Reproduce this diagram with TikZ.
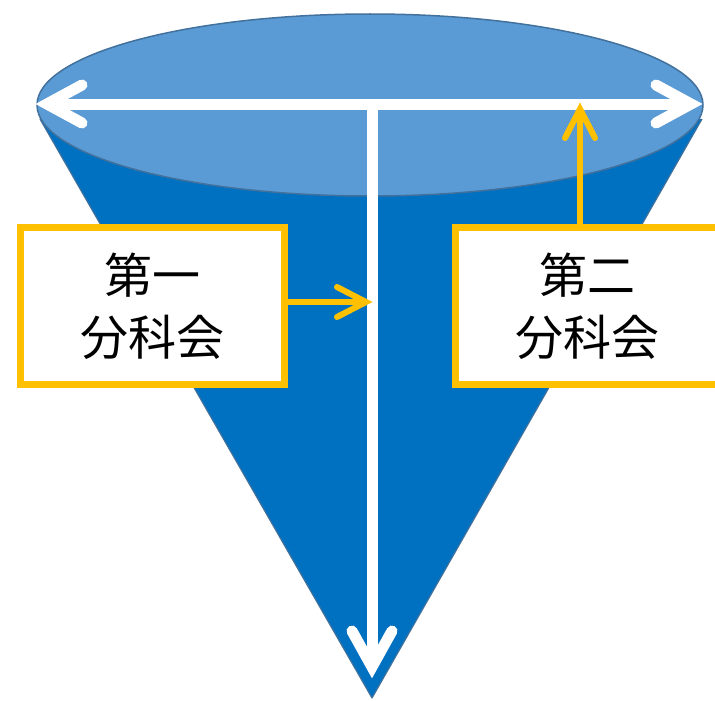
\documentclass[tikz,border=0pt]{standalone}
\usepackage{fontspec}
\newfontfamily\cjk{Noto Sans CJK JP}
\usetikzlibrary{calc}
\definecolor{conecol}{HTML}{0070C0}
\definecolor{topcol}{HTML}{5B9BD5}
\definecolor{edgecol}{HTML}{41719C}
\definecolor{yel}{HTML}{FFC000}
\tikzset{
  whiteline/.style={draw=white,line width=11pt},
  whitehead/.style={draw=white,line width=11pt,line cap=round,line join=miter},
  yline/.style={draw=yel,line width=6pt},
  yhead/.style={draw=yel,line width=6pt,line cap=round,line join=miter},
  labelbox/.style={rectangle,draw=yel,fill=white,line width=7pt,minimum width=264pt,minimum height=157pt,align=center,inner sep=0pt,font=\cjk\fontsize{48}{62}\selectfont},
}
\begin{document}
\begin{tikzpicture}[x=1pt,y=-1pt]
\useasboundingbox (0,0) rectangle (715,701);
% cone
\coordinate (apex) at (372,698);
\coordinate (tl) at (40,119);
\coordinate (tr) at (702,119);
\fill[conecol] (tl) -- (apex) -- (tr) -- cycle;
\draw[edgecol,line width=1.2pt,line join=round] (tl) -- (apex) -- (tr);
% top ellipse
\filldraw[fill=topcol,draw=edgecol,line width=1.5pt] (370,105) ellipse [x radius=333, y radius=91];
% white arrows
\coordinate (lt) at (47,104);
\coordinate (rt) at (691,104);
\coordinate (top) at (372,104);
\coordinate (dt) at (372,667);
\draw[whiteline] (lt) -- (rt);
\draw[whiteline] (top) -- (dt);
\draw[whitehead] ($(lt)+(35,-19)$) -- (lt) -- ($(lt)+(35,19)$);
\draw[whitehead] ($(rt)+(-35,-19)$) -- (rt) -- ($(rt)+(-35,19)$);
\draw[whitehead] ($(dt)+(-20,-36)$) -- (dt) -- ($(dt)+(20,-36)$);
% boxes
\node[labelbox] (box1) at (152.5,306) {\raisebox{3pt}{第一}\\\raisebox{3pt}{分科会}};
\node[labelbox] (box2) at (587.5,306) {\raisebox{3pt}{第二}\\\raisebox{3pt}{分科会}};
% yellow arrows
\coordinate (y1) at (366,302);
\coordinate (y2) at (580,109);
\draw[yline] (y1 -| box1.east) -- (y1);
\draw[yhead] ($(y1)+(-29,-15)$) -- (y1) -- ($(y1)+(-29,15)$);
\draw[yline] (y2 |- box2.north) -- (y2);
\draw[yhead] ($(y2)+(-15,29)$) -- (y2) -- ($(y2)+(15,29)$);
\end{tikzpicture}
\end{document}
